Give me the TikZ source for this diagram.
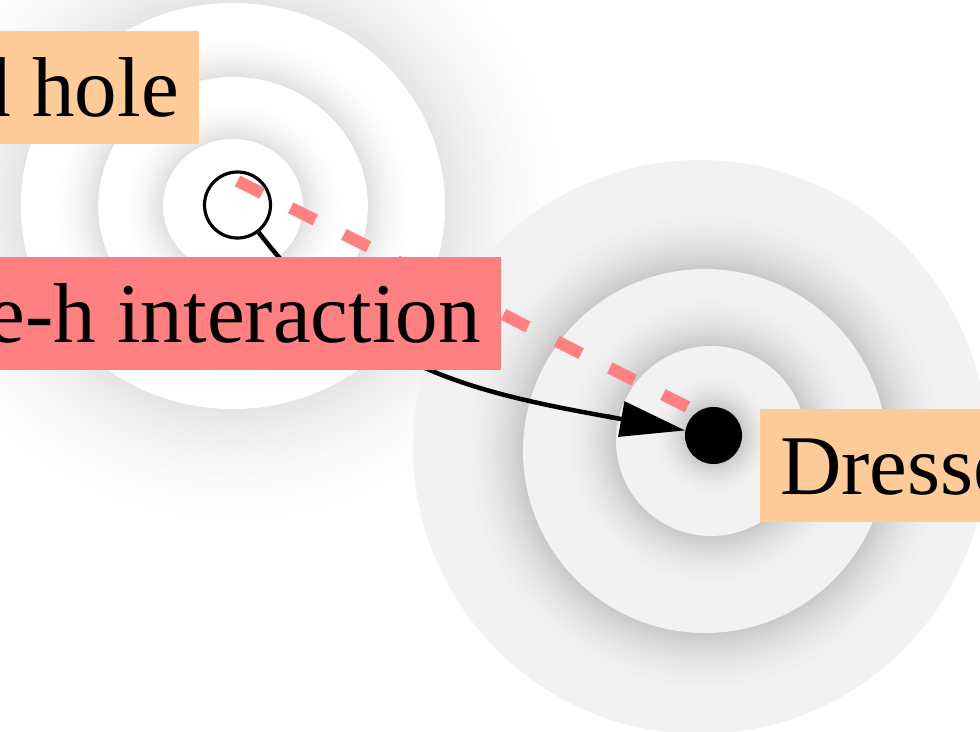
\documentclass[tikz,border=0pt]{standalone}
\usepackage{fontspec}
\setmainfont{Liberation Serif}
\usetikzlibrary{arrows.meta}

\definecolor{peach}{HTML}{FFCC99}
\definecolor{salmon}{HTML}{FF8080}
\definecolor{elight}{HTML}{F2F2F2}
\definecolor{edark}{HTML}{C8C8C8}
\definecolor{hdark}{HTML}{E0E0E0}
\definecolor{hglow}{HTML}{E4E4E4}

% soft shadow ring: centre, inner radius, width, dark colour, light colour
\newcommand{\ringglow}[5]{%
  \foreach \k in {0,...,40}{%
    \pgfmathsetmacro{\rr}{#2+#3*(1-\k/40)}%
    \pgfmathtruncatemacro{\pc}{100*(\k/40)^2}%
    \fill[#4!\pc!#5] (#1) circle[radius=\rr pt];
  }}

\begin{document}
\begin{tikzpicture}[x=1pt,y=-1pt,
  lbl/.style={rectangle, inner xsep=20pt, inner ysep=0pt,
    text height=85pt, text depth=28pt,
    font=\fontsize{85}{100}\selectfont},
  particle/.style={circle, inner sep=0pt},
  arrowline/.style={line width=4.5pt,
    -{Butt Cap[sep=8pt] Triangle[length=65pt,width=35pt]}},
  dashline/.style={salmon, line width=12pt, line cap=butt,
    dash pattern=on 27.5pt off 32pt},
]
\useasboundingbox (0,0) rectangle (980,731);
\clip (0,0) rectangle (980,731);
\fill[white] (0,0) rectangle (980,731);

% outer halo of the dressed hole
\begin{scope}[shift={(233,206)}, xscale=1.045]
  \ringglow{0,0}{203}{130}{hglow}{white}
\end{scope}

% dressed electron: three grey shells with soft shadows
\coordinate (ec3) at (700,447);
\coordinate (ec2) at (705,451);
\coordinate (ec1) at (711,441);
\fill[elight] (ec3) circle[radius=287pt];
\ringglow{ec2}{182}{68}{edark}{elight}
\fill[elight] (ec2) circle[radius=182pt];
\ringglow{ec1}{95}{58}{edark}{elight}
\fill[elight] (ec1) circle[radius=95pt];
\ringglow{713.5,435.5}{28}{36}{edark}{elight}

% dressed hole: three white shells with soft shadows
\begin{scope}[shift={(233,206)}, xscale=1.045]
  \fill[white] (0,0) circle[radius=203pt];
  \ringglow{0,0}{129}{47}{hdark}{white}
  \fill[white] (0,0) circle[radius=129pt];
  \ringglow{0,0}{67}{42}{hdark}{white}
  \fill[white] (0,0) circle[radius=67pt];
\end{scope}

% particles
\node[particle, draw=black, line width=3.2pt, fill=white, minimum size=66pt] (hole) at (237.5,205) {};
\node[particle, fill=black, minimum size=57pt] (electron) at (713.5,435.5) {};

% motion of the hole towards the electron
\draw[arrowline] (hole) .. controls (365,370) and (470,392) .. (electron);

% e-h interaction
\draw[dashline] ([yshift=24pt]hole.center) -- ([yshift=15.5pt]electron.center);

% labels
\node[lbl, fill=peach, anchor=base east] (holelbl) at (199,116) {Dressed hole};
\node[lbl, fill=salmon, anchor=base east] (ehlbl) at (501,342) {e-h interaction};
\node[lbl, fill=peach, anchor=base west] (elbl) at (760,494) {Dressed electron};
\end{tikzpicture}
\end{document}
